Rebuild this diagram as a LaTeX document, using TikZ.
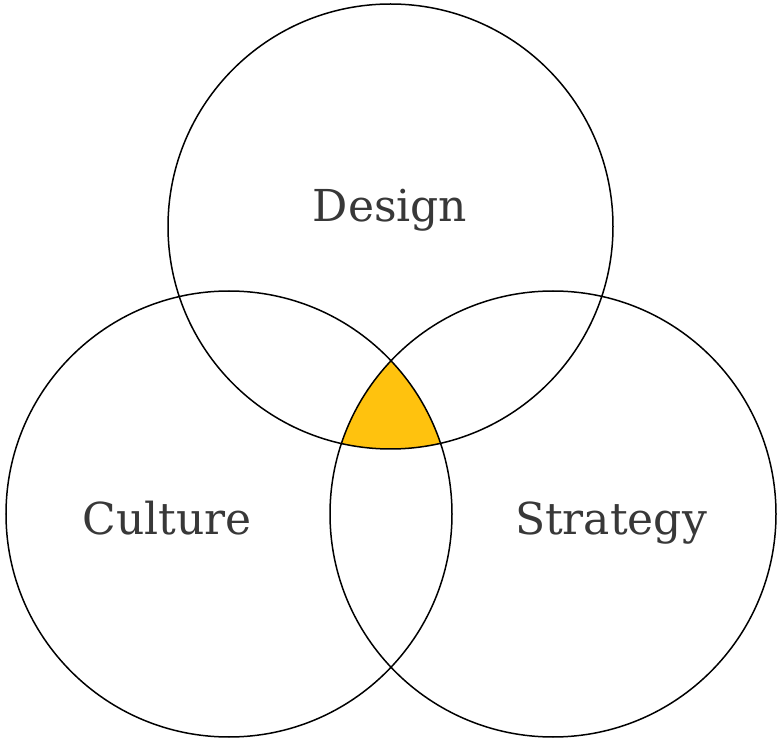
\documentclass[tikz,border=0pt]{standalone}
\usepackage{fontspec}
\setmainfont{DejaVu Serif}

\begin{document}
\begin{tikzpicture}[x=1pt, y=1pt,
  ring/.style={draw=black, line width=1.5pt},
  label/.style={font=\fontsize{44}{50}\selectfont, text=textcolor, anchor=base}]
  % Define colors
  \colorlet{textcolor}{black!78}
  \definecolor{corecolor}{HTML}{FFC20E}

  \useasboundingbox (0,0) rectangle (777,740);

  % Circle centres
  \coordinate (cdesign) at (390.5,513.5);
  \coordinate (cculture) at (229,226);
  \coordinate (cstrategy) at (553,226);

  % Shared core of all three circles
  \begin{scope}
    \clip (cculture) circle[radius=223pt];
    \clip (cstrategy) circle[radius=223pt];
    \fill[corecolor] (cdesign) circle[radius=222.5pt];
  \end{scope}

  % Circles
  \draw[ring] (cdesign) circle[radius=222.5pt];
  \draw[ring] (cculture) circle[radius=223pt];
  \draw[ring] (cstrategy) circle[radius=223pt];

  % Labels
  \node[label] (design) at (390,518) {Design};
  \node[label] (culture) at (167,205) {Culture};
  \node[label] (strategy) at (611,205) {Strategy};
\end{tikzpicture}
\end{document}
